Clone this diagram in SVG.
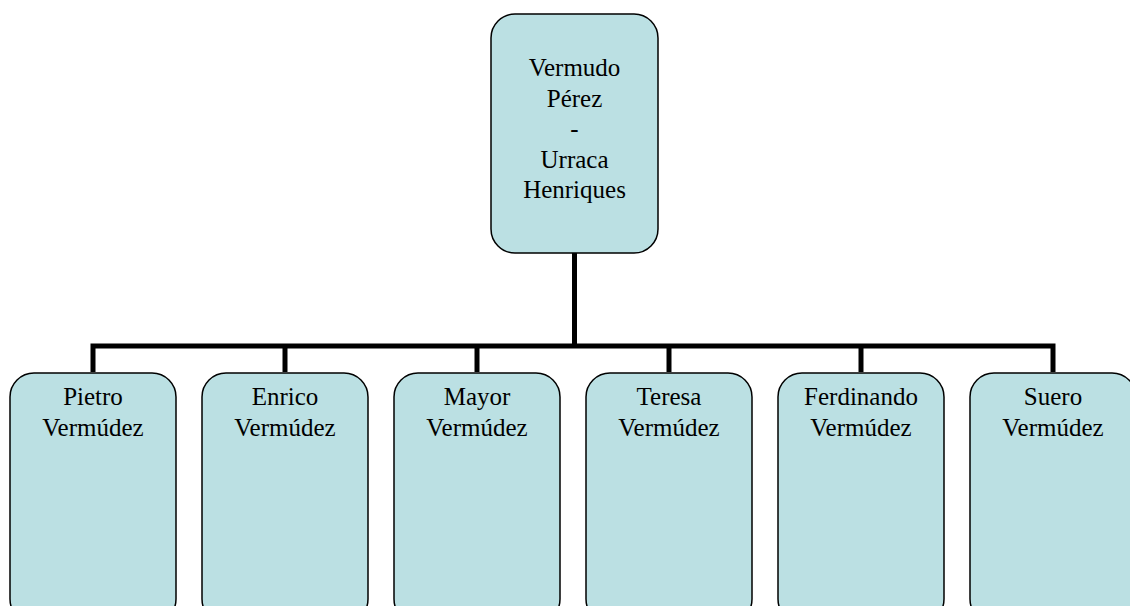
<svg xmlns="http://www.w3.org/2000/svg" width="1130" height="606" viewBox="0 0 1130 606">
  <style>
    .box { fill: #bbe0e3; stroke: #000; stroke-width: 1.5; }
    .lbl { font-family: "Liberation Serif", "Times New Roman", serif; font-size: 25px; fill: #000; text-anchor: middle; }
    .link { fill: none; stroke: #000; stroke-width: 5; stroke-linecap: butt; stroke-linejoin: miter; }
  </style>
  <rect width="1130" height="606" fill="#fff"/>

  <!-- connectors: trunk from the parent, one bar, and a drop to each child -->
  <g id="connectors">
    <path class="link" d="M574.5 253 V346"/>
    <path class="link" d="M93 372 V346 H1053 V372"/>
    <path class="link" d="M285 346 V372"/>
    <path class="link" d="M477 346 V372"/>
    <path class="link" d="M669 346 V372"/>
    <path class="link" d="M861 346 V372"/>
  </g>

  <g id="parent">
    <rect class="box" x="491" y="14" width="167" height="239" rx="24"/>
    <text class="lbl" x="574.5" y="76">Vermudo</text>
    <text class="lbl" x="574.5" y="107">Pérez</text>
    <text class="lbl" x="574.5" y="137">-</text>
    <text class="lbl" x="574.5" y="168">Urraca</text>
    <text class="lbl" x="574.5" y="198">Henriques</text>
  </g>

  <g id="pietro">
    <rect class="box" x="10" y="373" width="166" height="250" rx="24"/>
    <text class="lbl" x="93" y="405">Pietro</text>
    <text class="lbl" x="93" y="436">Vermúdez</text>
  </g>
  <g id="enrico">
    <rect class="box" x="202" y="373" width="166" height="250" rx="24"/>
    <text class="lbl" x="285" y="405">Enrico</text>
    <text class="lbl" x="285" y="436">Vermúdez</text>
  </g>
  <g id="mayor">
    <rect class="box" x="394" y="373" width="166" height="250" rx="24"/>
    <text class="lbl" x="477" y="405">Mayor</text>
    <text class="lbl" x="477" y="436">Vermúdez</text>
  </g>
  <g id="teresa">
    <rect class="box" x="586" y="373" width="166" height="250" rx="24"/>
    <text class="lbl" x="669" y="405">Teresa</text>
    <text class="lbl" x="669" y="436">Vermúdez</text>
  </g>
  <g id="ferdinando">
    <rect class="box" x="778" y="373" width="166" height="250" rx="24"/>
    <text class="lbl" x="861" y="405">Ferdinando</text>
    <text class="lbl" x="861" y="436">Vermúdez</text>
  </g>
  <g id="suero">
    <rect class="box" x="970" y="373" width="166" height="250" rx="24"/>
    <text class="lbl" x="1053" y="405">Suero</text>
    <text class="lbl" x="1053" y="436">Vermúdez</text>
  </g>
</svg>
